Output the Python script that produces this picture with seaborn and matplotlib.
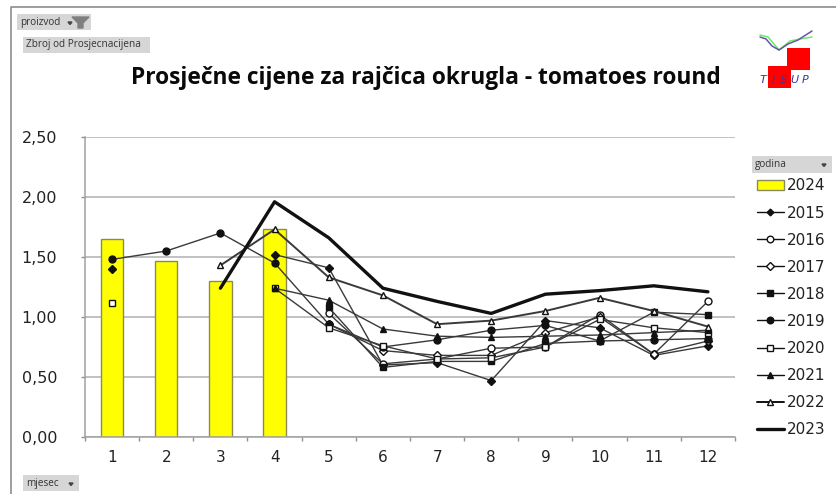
import numpy as np
import pandas as pd
import seaborn as sns
import matplotlib
matplotlib.use("Agg")
import matplotlib.pyplot as plt
from matplotlib.lines import Line2D
from matplotlib.patches import Patch, Rectangle, Polygon

months = [1, 2, 3, 4, 5, 6, 7, 8, 9, 10, 11, 12]
n = np.nan
bars_2024 = [1.65, 1.47, 1.30, 1.73, n, n, n, n, n, n, n, n]
y2015 = [1.40, n, n, 1.52, 1.41, 0.60, 0.62, 0.47, 0.97, 0.91, 0.68, 0.76]
y2016 = [n, n, n, n, 1.03, 0.61, 0.65, 0.74, 0.75, 1.02, 0.69, 1.13]
y2017 = [n, n, n, n, 0.94, 0.72, 0.68, 0.68, 0.87, 1.00, 0.69, 0.80]
y2018 = [n, n, n, n, 1.08, 0.58, 0.63, 0.63, 0.78, 0.80, 1.04, 1.02]
y2019 = [1.48, 1.55, 1.70, 1.45, 0.94, 0.75, 0.81, 0.89, 0.93, 0.80, 0.81, 0.82]
y2020 = [1.12, n, n, 1.24, 0.91, 0.76, 0.65, 0.66, 0.75, 0.98, 0.91, 0.87]
y2021 = [n, n, n, 1.24, 1.14, 0.90, 0.84, 0.83, 0.84, 0.85, 0.87, 0.89]
y2022 = [n, n, 1.43, 1.73, 1.33, 1.18, 0.94, 0.97, 1.05, 1.16, 1.05, 0.92]
y2023 = [n, n, 1.24, 1.96, 1.66, 1.24, 1.13, 1.03, 1.19, 1.22, 1.26, 1.21]
y_ticks = [0, 0.5, 1.0, 1.5, 2.0, 2.5]
y_labels = ["0,00", "0,50", "1,00", "1,50", "2,00", "2,50"]
title = "Prosječne cijene za rajčica okrugla - tomatoes round"

series = [
    ("2015", y2015, "D", "#111111", 1.0, 3.6),
    ("2016", y2016, "o", "white", 1.0, 5.0),
    ("2017", y2017, "D", "white", 1.0, 4.0),
    ("2018", y2018, "s", "#111111", 1.0, 4.0),
    ("2019", y2019, "o", "#111111", 1.0, 5.0),
    ("2020", y2020, "s", "white", 1.0, 4.0),
    ("2021", y2021, "^", "#111111", 1.0, 4.0),
    ("2022", y2022, "^", "white", 1.4, 4.5),
    ("2023", y2023, None, "#111111", 2.4, 0),
]

W, H = 837, 494
sns.set_theme(style="white")
plt.rcParams["font.family"] = ["DejaVu Sans"]
fig = plt.figure(figsize=(W / 100, H / 100), dpi=100, facecolor="white")
ax = fig.add_axes([85 / W, 1 - 437 / H, 650 / W, 300 / H])

df_bar = pd.DataFrame({"mjesec": months, "v": bars_2024})
sns.barplot(data=df_bar, x="mjesec", y="v", order=months, width=0.41, color="#FFFF00",
            saturation=1, edgecolor="#8a8a5a", linewidth=1.0, ax=ax, zorder=2)

for name, vals, mk, mfc, lw, ms in series:
    arr = np.array(vals, dtype=float)
    idx = np.arange(len(arr))
    run = np.cumsum(np.isnan(arr))
    for r in np.unique(run[~np.isnan(arr)]):
        keep = (run == r) & ~np.isnan(arr)
        seg = pd.DataFrame({"x": idx[keep], "y": arr[keep]})
        kw = dict(marker=mk, markersize=ms, markerfacecolor=mfc,
                  markeredgecolor="#111111", markeredgewidth=1.0) if mk else {}
        sns.lineplot(data=seg, x="x", y="y", color="#3a3a3a" if lw < 2 else "#111111",
                     linewidth=lw, errorbar=None, ax=ax, zorder=3, sort=False, **kw)

ax.set_xlim(-0.5, 11.5)
ax.set_ylim(0, 2.5)
ax.set_xlabel("")
ax.set_ylabel("")
ax.set_yticks(y_ticks, y_labels)
ax.set_xticks(range(12), [str(m) for m in months])
ax.set_xticks(np.arange(-0.5, 12, 1), minor=True)
ax.tick_params(axis="x", which="major", length=0, labelsize=11, pad=9, colors="#222222")
ax.tick_params(axis="x", which="minor", length=3, width=1, color="#909090", bottom=True)
ax.tick_params(axis="y", length=3, width=1, color="#909090", left=True, labelsize=11.5,
               pad=17, labelcolor="#222222")
ax.grid(axis="y", color="#b0b0b0", linewidth=1.1)
ax.set_axisbelow(True)
for s in ["top", "right"]:
    ax.spines[s].set_visible(False)
for s in ["left", "bottom"]:
    ax.spines[s].set_color("#a0a0a0")
    ax.spines[s].set_linewidth(1.1)

handles = [Patch(facecolor="#FFFF00", edgecolor="#8a8a5a", label="2024")]
for name, vals, mk, mfc, lw, ms in series:
    handles.append(Line2D([], [], color="#111111", linewidth=lw, marker=mk, markersize=ms * 0.95,
                          markerfacecolor=mfc, markeredgecolor="#111111", label=name))
leg = fig.legend(handles=handles, loc="upper left", bbox_to_anchor=(757 / W, 1 - 178.5 / H),
                 bbox_transform=fig.transFigure, frameon=False, fontsize=11,
                 labelspacing=0.79, handlelength=1.75, handletextpad=0.2, borderpad=0,
                 borderaxespad=0, labelcolor="#222222")

fig.text(426 / W, 1 - 78 / H, title, ha="center", va="center", fontsize=16.35,
         fontweight="bold", family="Open Sans", color="#0a0a0a")

# canvas overlay in pixel coordinates: frame, pivot buttons, logo
ov = fig.add_axes([0, 0, 1, 1], zorder=-1)
ov.set_xlim(0, W)
ov.set_ylim(H, 0)
ov.axis("off")
ov.plot([11, 11, W], [H, 7.5, 7.5], color="#8c8c8c", lw=1.2)
for x0, y0, w, h, txt in [(17, 14, 74, 16, "proizvod"), (23, 37, 127, 16, "Zbroj od Prosjecnacijena"),
                           (752, 156, 80, 17, "godina"), (23, 475, 56, 16, "mjesec")]:
    ov.add_patch(Rectangle((x0, y0), w, h, facecolor="#d6d6d6", edgecolor="none"))
    ov.text(x0 + 3, y0 + h / 2, txt, fontsize=7.2, family="Open Sans", va="center", color="#333333")
ov.add_patch(Polygon([[72, 17], [89, 17], [83, 23], [83, 28], [78, 28], [78, 23]], color="#7f7f7f"))
for px, py in [(70, 23), (824, 165), (71, 484)]:
    ov.add_patch(Polygon([[px - 2, py - 1], [px + 2, py - 1], [px, py + 1.5]], color="#444444"))

ov.add_patch(Rectangle((787, 48), 23, 22, facecolor="#ff0000", edgecolor="none"))
ov.add_patch(Rectangle((768, 66), 23, 22, facecolor="#ff0000", edgecolor="none"))
ov.plot([760, 768, 774, 779, 790, 800, 812], [35, 37, 44, 50, 41, 39, 37], color="#66ee66", lw=1.1)
ov.plot([760, 766, 772, 779, 788, 798, 812], [37, 39, 46, 50, 44, 40, 31], color="#6655aa", lw=1.1)
for lx, ch in zip([763, 773, 784, 794, 805], "TISUP"):
    ov.text(lx, 80, ch, fontsize=8, style="italic", color="#3a3a99", ha="center", va="center")

fig.savefig("out.png", dpi=100)
